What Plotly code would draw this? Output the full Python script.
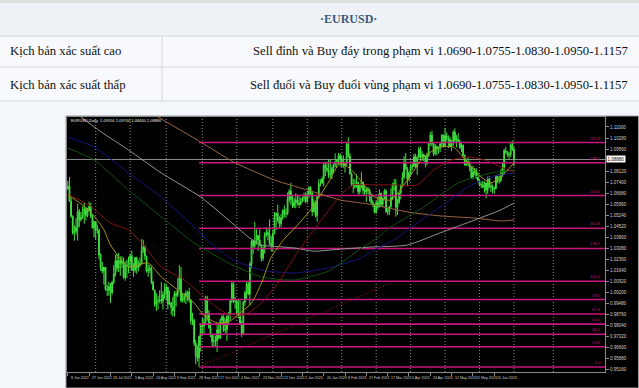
import plotly.graph_objects as go

# ---------------- table text ----------------
header_text = "·EURUSD·"
scenario_labels = ["Kịch bản xác suất cao", "Kịch bản xác suất thấp"]
scenario_texts = [
    "Sell đỉnh và Buy đáy trong phạm vi 1.0690-1.0755-1.0830-1.0950-1.1157",
    "Sell đuổi và Buy đuổi vùng phạm vi 1.0690-1.0755-1.0830-1.0950-1.1157",
]

# ---------------- EURUSD daily candles (8 Jun 2022 .. 23 Jun 2023) ----------------
symbol_text = "EURUSD,Daily"
first_open = 1.0695
closes = [
    1.0715,1.0616,1.0518,1.0408,1.0418,1.0445,1.0549,1.0495,1.0510,1.0534,1.0566,1.0522,1.0555,1.0583,1.0518,1.0442,1.0483,
    1.0427,1.0424,1.0265,1.0183,1.0160,1.0185,1.0040,1.0036,1.0060,1.0020,1.0087,1.0142,1.0228,1.0179,1.0229,1.0211,1.0224,1.0117,1.0198,1.0197,1.0225,
    1.0260,1.0164,1.0166,1.0247,1.0183,1.0197,1.0211,1.0298,1.0319,1.0259,1.0160,1.0169,1.0178,1.0088,1.0037,0.9943,0.9966,0.9967,0.9973,0.9965,1.0004,1.0018,1.0055,
    0.9944,0.9953,0.9924,0.9903,1.0012,1.0002,1.0042,1.0122,0.9967,0.9978,0.9998,1.0015,1.0025,0.9972,0.9837,0.9839,0.9690,0.9606,0.9594,0.9735,0.9814,0.9801,
    0.9826,0.9986,0.9884,0.9791,0.9741,0.9700,0.9706,0.9705,0.9778,0.9723,0.9840,0.9861,0.9774,0.9778,0.9863,0.9877,0.9965,1.0077,0.9963,0.9965,0.9881,
    0.9878,0.9819,0.9752,0.9958,1.0019,1.0075,1.0010,1.0207,1.0356,1.0325,1.0352,1.0392,1.0362,1.0326,1.0243,1.0305,1.0396,1.0410,1.0399,1.0338,1.0329,1.0405,
    1.0523,1.0535,1.0488,1.0468,1.0508,1.0556,1.0534,1.0537,1.0629,1.0681,1.0627,1.0583,1.0608,1.0624,1.0604,1.0596,1.0616,1.0636,1.0641,1.0613,1.0660,1.0705,
    1.0670,1.0548,1.0606,1.0521,1.0644,1.0731,1.0734,1.0762,1.0851,1.0830,1.0820,1.0789,1.0794,1.0830,1.0855,1.0870,1.0885,1.0913,1.0890,1.0868,1.0847,1.0863,
    1.0990,1.0910,1.0794,1.0727,1.0727,1.0711,1.0738,1.0678,1.0720,1.0741,1.0687,1.0676,1.0694,1.0686,1.0648,1.0606,1.0595,1.0545,1.0607,1.0577,
    1.0668,1.0597,1.0636,1.0683,1.0548,1.0546,1.0582,1.0640,1.0730,1.0729,1.0577,1.0609,1.0670,1.0720,1.0770,1.0860,1.0830,1.0760,1.0800,1.0843,1.0845,1.0906,1.0839,
    1.0902,1.0955,1.0904,1.0920,1.0903,1.0862,1.0913,1.0991,1.1047,1.0991,1.0925,1.0972,1.0955,1.0962,1.0989,1.1048,1.0972,1.1042,1.1026,1.1017,
    1.0975,1.0995,1.1066,1.1012,1.1019,1.1005,1.0963,1.0982,1.0915,1.0850,1.0873,1.0862,1.0838,1.0770,1.0806,1.0816,1.0774,1.0752,1.0725,1.0722,1.0707,1.0735,1.0689,
    1.0762,1.0707,1.0712,1.0693,1.0699,1.0781,1.0749,1.0751,1.0792,1.0832,1.0945,1.0939,1.0922,1.0918,1.0985,1.0955,1.0888,
]
highs = [
    1.0748,1.0774,1.0640,1.0524,1.0459,1.0506,1.0601,1.0566,1.0545,1.0582,1.0606,1.0580,1.0573,1.0614,1.0605,1.0528,1.0487,
    1.0486,1.0463,1.0438,1.0276,1.0221,1.0186,1.0186,1.0068,1.0089,1.0082,1.0097,1.0199,1.0268,1.0273,1.0279,1.0256,1.0257,1.0248,1.0223,1.0234,1.0254,
    1.0274,1.0294,1.0212,1.0254,1.0254,1.0230,1.0248,1.0368,1.0364,1.0329,1.0259,1.0202,1.0201,1.0190,1.0096,1.0037,1.0016,0.9999,1.0034,1.0090,1.0028,1.0080,1.0079,
    1.0056,1.0033,0.9960,0.9990,1.0030,1.0030,1.0113,1.0198,1.0187,1.0019,1.0017,1.0036,1.0029,1.0052,0.9977,0.9888,0.9852,0.9712,0.9676,0.9739,0.9816,0.9854,
    0.9852,0.9999,0.9999,0.9905,0.9829,0.9750,0.9742,0.9740,0.9808,0.9809,0.9851,0.9875,0.9873,0.9848,0.9872,0.9895,0.9976,1.0089,1.0094,0.9990,0.9975,
    0.9975,0.9977,0.9838,0.9965,1.0033,1.0096,1.0094,1.0222,1.0364,1.0365,1.0481,1.0433,1.0393,1.0433,1.0334,1.0320,1.0413,1.0448,1.0433,1.0497,1.0390,1.0429,
    1.0545,1.0544,1.0594,1.0518,1.0532,1.0563,1.0588,1.0568,1.0673,1.0694,1.0736,1.0654,1.0638,1.0667,1.0659,1.0658,1.0638,1.0647,1.0671,1.0674,1.0679,1.0714,
    1.0712,1.0684,1.0629,1.0619,1.0650,1.0760,1.0760,1.0777,1.0868,1.0874,1.0873,1.0887,1.0887,1.0845,1.0859,1.0927,1.0890,1.0929,1.0930,1.0914,1.0914,1.0874,
    1.1000,1.1033,1.0930,1.0804,1.0763,1.0760,1.0792,1.0744,1.0728,1.0805,1.0742,1.0717,1.0706,1.0710,1.0699,1.0665,1.0623,1.0594,1.0620,1.0645,
    1.0692,1.0670,1.0639,1.0695,1.0694,1.0571,1.0583,1.0700,1.0736,1.0760,1.0760,1.0628,1.0671,1.0726,1.0805,1.0910,1.0930,1.0838,1.0811,1.0855,1.0872,1.0925,1.0925,
    1.0914,1.0973,1.0970,1.0942,1.0925,1.0915,1.0932,1.1000,1.1068,1.1075,1.1002,1.0990,1.0980,1.0973,1.0995,1.1053,1.1050,1.1095,1.1065,1.1045,
    1.1037,1.1018,1.1078,1.1091,1.1047,1.1059,1.1018,1.1000,1.0985,1.0921,1.0887,1.0904,1.0877,1.0846,1.0848,1.0833,1.0830,1.0805,1.0760,1.0742,1.0748,1.0746,1.0736,
    1.0777,1.0779,1.0737,1.0725,1.0712,1.0785,1.0789,1.0790,1.0823,1.0865,1.0957,1.0971,1.0941,1.0935,1.0998,1.1012,1.0970,
]
lows = [
    1.0692,1.0612,1.0507,1.0397,1.0358,1.0398,1.0360,1.0446,1.0483,1.0500,1.0469,1.0490,1.0513,1.0548,1.0505,1.0436,1.0381,
    1.0366,1.0405,1.0236,1.0161,1.0144,1.0072,1.0032,0.9998,0.9999,0.9952,1.0006,1.0074,1.0124,1.0158,1.0154,1.0130,1.0180,1.0111,1.0097,1.0114,1.0146,
    1.0180,1.0162,1.0123,1.0150,1.0142,1.0158,1.0186,1.0204,1.0277,1.0232,1.0150,1.0123,1.0147,1.0075,1.0034,0.9927,0.9901,0.9910,0.9950,0.9947,0.9910,0.9979,0.9967,
    0.9910,0.9941,0.9876,0.9864,0.9864,0.9930,0.9990,1.0040,0.9956,0.9954,0.9955,0.9944,0.9966,0.9954,0.9810,0.9807,0.9671,0.9553,0.9570,0.9535,0.9636,0.9749,
    0.9754,0.9815,0.9836,0.9785,0.9730,0.9671,0.9669,0.9671,0.9632,0.9713,0.9717,0.9814,0.9763,0.9755,0.9705,0.9807,0.9835,0.9951,0.9952,0.9914,0.9871,
    0.9853,0.9810,0.9730,0.9746,0.9935,0.9974,1.0003,0.9935,1.0179,1.0271,1.0305,1.0333,1.0290,1.0322,1.0223,1.0226,1.0274,1.0383,1.0362,1.0328,1.0287,1.0290,
    1.0400,1.0429,1.0478,1.0443,1.0448,1.0495,1.0510,1.0507,1.0525,1.0608,1.0592,1.0571,1.0572,1.0570,1.0589,1.0572,1.0588,1.0608,1.0614,1.0603,1.0608,1.0637,
    1.0653,1.0520,1.0544,1.0511,1.0483,1.0643,1.0713,1.0729,1.0712,1.0780,1.0805,1.0766,1.0766,1.0760,1.0802,1.0838,1.0834,1.0855,1.0843,1.0836,1.0835,1.0802,
    1.0848,1.0899,1.0790,1.0712,1.0669,1.0696,1.0704,1.0660,1.0660,1.0700,1.0660,1.0652,1.0612,1.0663,1.0613,1.0599,1.0578,1.0536,1.0533,1.0561,
    1.0575,1.0578,1.0576,1.0632,1.0539,1.0524,1.0526,1.0567,1.0622,1.0684,1.0516,1.0526,1.0599,1.0628,1.0715,1.0758,1.0818,1.0713,1.0745,1.0784,1.0818,1.0838,1.0832,
    1.0788,1.0895,1.0889,1.0880,1.0876,1.0837,1.0850,1.0905,1.0978,1.0973,1.0910,1.0915,1.0915,1.0926,1.0937,1.0971,1.0965,1.0968,1.1006,1.0962,
    1.0967,1.0942,1.0976,1.0993,1.0967,1.0997,1.0957,1.0935,1.0906,1.0848,1.0850,1.0844,1.0811,1.0760,1.0759,1.0787,1.0760,1.0746,1.0712,1.0702,1.0700,1.0672,1.0635,
    1.0664,1.0705,1.0676,1.0667,1.0665,1.0694,1.0735,1.0730,1.0739,1.0775,1.0800,1.0925,1.0905,1.0885,1.0904,1.0944,1.0844,
]
opens = [first_open] + closes[:-1]
bar_idx = list(range(len(closes)))

# ---------------- axes ----------------
xtick_idx = [0, 13, 26, 39, 52, 65, 78, 91, 104, 117, 130, 143, 156, 169, 182, 195, 208, 221, 234, 247, 260]
xtick_labels = ["8 Jun 2022", "27 Jun 2022", "18 Jul 2022", "5 Aug 2022", "24 Aug 2022", "9 Sep 2022",
                "28 Sep 2022", "17 Oct 2022", "4 Nov 2022", "23 Nov 2022", "12 Dec 2022", "2 Jan 2023",
                "20 Jan 2023", "8 Feb 2023", "27 Feb 2023", "17 Mar 2023", "5 Apr 2023", "24 Apr 2023",
                "12 May 2023", "31 May 2023", "20 Jun 2023"]
grid_idx = [17, 38, 60, 82, 103, 125, 146, 167, 188, 209, 230, 251, 272, 296]
# (the label under the current-price box is hidden by it, as on the reference)
ytick_vals = [1.1100, 1.1028, 1.0956, 1.0812, 1.0740, 1.0668, 1.0596, 1.0524, 1.0452, 1.0380,
              1.0308, 1.0236, 1.0164, 1.0092, 1.0020, 0.9948, 0.9876, 0.9804, 0.9732, 0.9660, 0.9588, 0.9516]

# ---------------- Fibonacci object ----------------
fib_low, fib_high = 0.9535, 1.0094
fib_start_idx, fib_end_idx = 80, 199
fib_ratios = [0.0, 23.6, 38.2, 50.0, 61.8, 78.6, 100.0, 138.2, 161.8, 200.0, 238.2, 261.8]

# ---------------- moving averages ----------------
olive_idx = [0, 8, 16, 22, 26, 37, 49, 57, 67, 77, 83, 91, 98, 105, 112, 118, 124, 132, 140, 148, 159, 166,
             173, 183, 187, 197, 207, 217, 227, 235, 244, 252, 258, 264, 272]
olive_val = [1.0656, 1.0600, 1.0520, 1.0430, 1.0330, 1.0187, 1.0213, 1.0122, 1.0037, 0.9952, 0.9870, 0.9822,
             0.9828, 0.9887, 0.9952, 1.0080, 1.0250, 1.0370, 1.0460, 1.0560, 1.0740, 1.0865, 1.0819, 1.0689,
             1.0643, 1.0624, 1.0754, 1.0904, 1.0969, 1.0969, 1.0865, 1.0774, 1.0735, 1.0774, 1.0865]
red_idx = [0, 13, 26, 37, 46, 57, 71, 83, 93, 101, 110, 118, 128, 138, 144, 155, 166, 174, 187, 200, 213,
           223, 234, 244, 254, 264, 272]
red_val = [1.0660, 1.0590, 1.0474, 1.0428, 1.0330, 1.0187, 1.0102, 0.9991, 0.9907, 0.9861, 0.9887, 0.9952,
           1.0080, 1.0250, 1.0340, 1.0500, 1.0650, 1.0722, 1.0722, 1.0722, 1.0722, 1.0819, 1.0885, 1.0904,
           1.0885, 1.0839, 1.0806]
green_idx = [0, 16, 37, 57, 77, 81, 98, 118, 138, 159, 170, 179, 187, 197, 217, 238, 258, 272]
green_val = [1.0963, 1.0885, 1.0689, 1.0513, 1.0343, 1.0317, 1.0213, 1.0122, 1.0102, 1.0160, 1.0240, 1.0311,
             1.0363, 1.0448, 1.0578, 1.0735, 1.0800, 1.0819]
blue_idx = [0, 16, 37, 57, 77, 89, 101, 118, 138, 159, 170, 179, 187, 199, 207, 227, 244, 258, 272]
blue_val = [1.1035, 1.0969, 1.0800, 1.0643, 1.0448, 1.0320, 1.0233, 1.0167, 1.0148, 1.0181, 1.0215, 1.0246,
            1.0300, 1.0363, 1.0428, 1.0578, 1.0709, 1.0774, 1.0800]
gray_idx = [8, 20, 37, 57, 81, 98, 110, 118, 128, 138, 150, 168, 185, 207, 227, 248, 264, 272]
gray_val = [1.1165, 1.1070, 1.0950, 1.0800, 1.0643, 1.0493, 1.0383, 1.0330, 1.0320, 1.0311, 1.0290, 1.0305,
            1.0317, 1.0330, 1.0409, 1.0493, 1.0559, 1.0604]
brown_idx = [55, 81, 101, 126, 146, 166, 179, 187, 207, 227, 248, 264, 272]
brown_val = [1.1165, 1.1002, 1.0872, 1.0754, 1.0689, 1.0624, 1.0604, 1.0591, 1.0546, 1.0520, 1.0506, 1.0487, 1.0493]

# ---------------- geometry helpers ----------------
W, H = 639, 388
def px(x):
    return x / W
def py(y):
    return 1 - y / H

X_MIN, X_MAX = -0.5, 327.5
Y_MIN, Y_MAX = 0.9502, 1.1165
MAGENTA = "#c8157f"
LBL = "#cfcfcf"

fig = go.Figure()

fig.add_trace(go.Candlestick(
    x=bar_idx, open=opens, high=highs, low=lows, close=closes,
    increasing=dict(line=dict(color="#3fe03f", width=1), fillcolor="#1f8f1f"),
    decreasing=dict(line=dict(color="#3fe03f", width=1), fillcolor="#4cf04c"),
    whiskerwidth=0, hoverinfo="skip", showlegend=False,
))

# fib levels
for r in fib_ratios:
    lv = fib_low + r / 100.0 * (fib_high - fib_low)
    fig.add_trace(go.Scatter(x=[fib_start_idx, X_MAX], y=[lv, lv], mode="lines",
                             line=dict(color=MAGENTA, width=1.6), hoverinfo="skip", showlegend=False))
# fib anchor line
fig.add_trace(go.Scatter(x=[fib_start_idx, fib_end_idx], y=[fib_low, fib_high], mode="lines",
                         line=dict(color="#b01818", width=1, dash="1px,2px"),
                         hoverinfo="skip", showlegend=False))

for xs, ys, col in [(brown_idx, brown_val, "#9a6640"), (gray_idx, gray_val, "#959595"),
                    (blue_idx, blue_val, "#14147e"), (green_idx, green_val, "#0b520b"),
                    (red_idx, red_val, "#861212"), (olive_idx, olive_val, "#a89614")]:
    fig.add_trace(go.Scatter(x=xs, y=ys, mode="lines", line=dict(color=col, width=1, shape="spline", smoothing=0.6),
                             hoverinfo="skip", showlegend=False))

shapes = []
# table
shapes.append(dict(type="rect", xref="paper", yref="paper", x0=0, x1=1, y0=py(3), y1=1,
                   fillcolor="#dedede", line=dict(width=0), layer="below"))
shapes.append(dict(type="rect", xref="paper", yref="paper", x0=0, x1=1, y0=py(36), y1=py(3),
                   fillcolor="#eef2f6", line=dict(width=0), layer="below"))
shapes.append(dict(type="rect", xref="paper", yref="paper", x0=0, x1=1, y0=py(101), y1=py(36),
                   fillcolor="#f7f9fc", line=dict(width=0), layer="below"))
for yy in [36, 67, 101]:
    shapes.append(dict(type="line", xref="paper", yref="paper", x0=0, x1=1, y0=py(yy), y1=py(yy),
                       line=dict(color="#d3d9df", width=1), layer="below"))
shapes.append(dict(type="line", xref="paper", yref="paper", x0=px(162), x1=px(162), y0=py(101), y1=py(36),
                   line=dict(color="#d3d9df", width=1), layer="below"))
# chart picture background
shapes.append(dict(type="rect", xref="paper", yref="paper", x0=px(66), x1=px(638.5), y0=0, y1=py(116),
                   fillcolor="black", line=dict(color="#9a9a9a", width=1), layer="below"))
# vertical dotted grid
for g in grid_idx:
    shapes.append(dict(type="line", xref="x", yref="paper", x0=g, x1=g, y0=py(372), y1=py(117),
                       line=dict(color="#8a8a8a", width=1, dash="1px,2px"), layer="below"))
# bid line
shapes.append(dict(type="line", xref="paper", yref="y", x0=px(67), x1=px(605), y0=closes[-1], y1=closes[-1],
                   line=dict(color="#8c8c8c", width=1), layer="below"))

ann = []
ann.append(dict(text="<b>" + header_text + "</b>", x=px(348), y=py(19), xref="paper", yref="paper",
                xanchor="center", yanchor="middle",
                showarrow=False, font=dict(family="Liberation Serif", size=12, color="#3a5a7c")))
for i, (lab, txt) in enumerate(zip(scenario_labels, scenario_texts)):
    yy = [51, 85][i]
    ann.append(dict(text=lab, x=px(8), y=py(yy), xref="paper", yref="paper", xanchor="left", yanchor="middle",
                    showarrow=False, font=dict(family="Liberation Serif", size=12.7, color="#111111")))
    ann.append(dict(text=txt, x=px(630), y=py(yy), xref="paper", yref="paper", xanchor="right", yanchor="middle",
                    showarrow=False, font=dict(family="Liberation Serif", size=12.7, color="#111111")))
# chart info
ann.append(dict(text=f"{symbol_text}  {opens[-1]:.5f} {highs[-1]:.5f} {lows[-1]:.5f} {closes[-1]:.5f}",
                x=px(69), y=py(120.5), xref="paper", yref="paper", xanchor="left", yanchor="middle",
                showarrow=False, font=dict(family="Liberation Sans", size=4, color="#e8e8e8")))
# x labels
for xi, lab in zip(xtick_idx, xtick_labels):
    ann.append(dict(text=lab, x=xi, y=py(377.5), xref="x", yref="paper", xanchor="left", yanchor="middle",
                    xshift=1, showarrow=False, font=dict(family="Liberation Sans", size=3.6, color=LBL)))
# fib labels
for r in fib_ratios:
    lv = fib_low + r / 100.0 * (fib_high - fib_low)
    ann.append(dict(text=f"{r:.1f}", x=px(603), y=lv, xref="paper", yref="y", xanchor="right", yanchor="bottom",
                    showarrow=False, font=dict(family="Liberation Sans", size=4, color=MAGENTA)))
# current price box
ann.append(dict(text=f"{closes[-1]:.5f}", x=px(606), y=closes[-1], xref="paper", yref="y", xanchor="left",
                yanchor="middle", showarrow=False, bgcolor="white", borderpad=0.5,
                font=dict(family="Liberation Sans", size=4.5, color="black")))

fig.update_layout(
    width=W, height=H, margin=dict(l=0, r=0, t=0, b=0),
    paper_bgcolor="#f3f6fa", plot_bgcolor="black", showlegend=False,
    shapes=shapes, annotations=ann,
    xaxis=dict(domain=[px(67), px(605)], range=[X_MIN, X_MAX], showgrid=False, zeroline=False,
               showline=True, linecolor="#8a8a8a", linewidth=1, mirror=True,
               ticks="outside", ticklen=3, tickcolor="#8a8a8a", tickvals=xtick_idx, showticklabels=False,
               rangeslider=dict(visible=False), fixedrange=True),
    yaxis=dict(domain=[py(372), py(117)], range=[Y_MIN, Y_MAX], side="right", showgrid=False, zeroline=False,
               showline=True, linecolor="#8a8a8a", linewidth=1, mirror=True,
               ticks="outside", ticklen=3, tickcolor="#8a8a8a",
               tickvals=ytick_vals, ticktext=[f"{v:.5f}" for v in ytick_vals],
               tickfont=dict(family="Liberation Sans", size=4.5, color=LBL), fixedrange=True),
)

fig.write_html("out.html", config={"displayModeBar": False},
               post_script="document.body.style.margin='0';document.body.style.overflow='hidden';")
